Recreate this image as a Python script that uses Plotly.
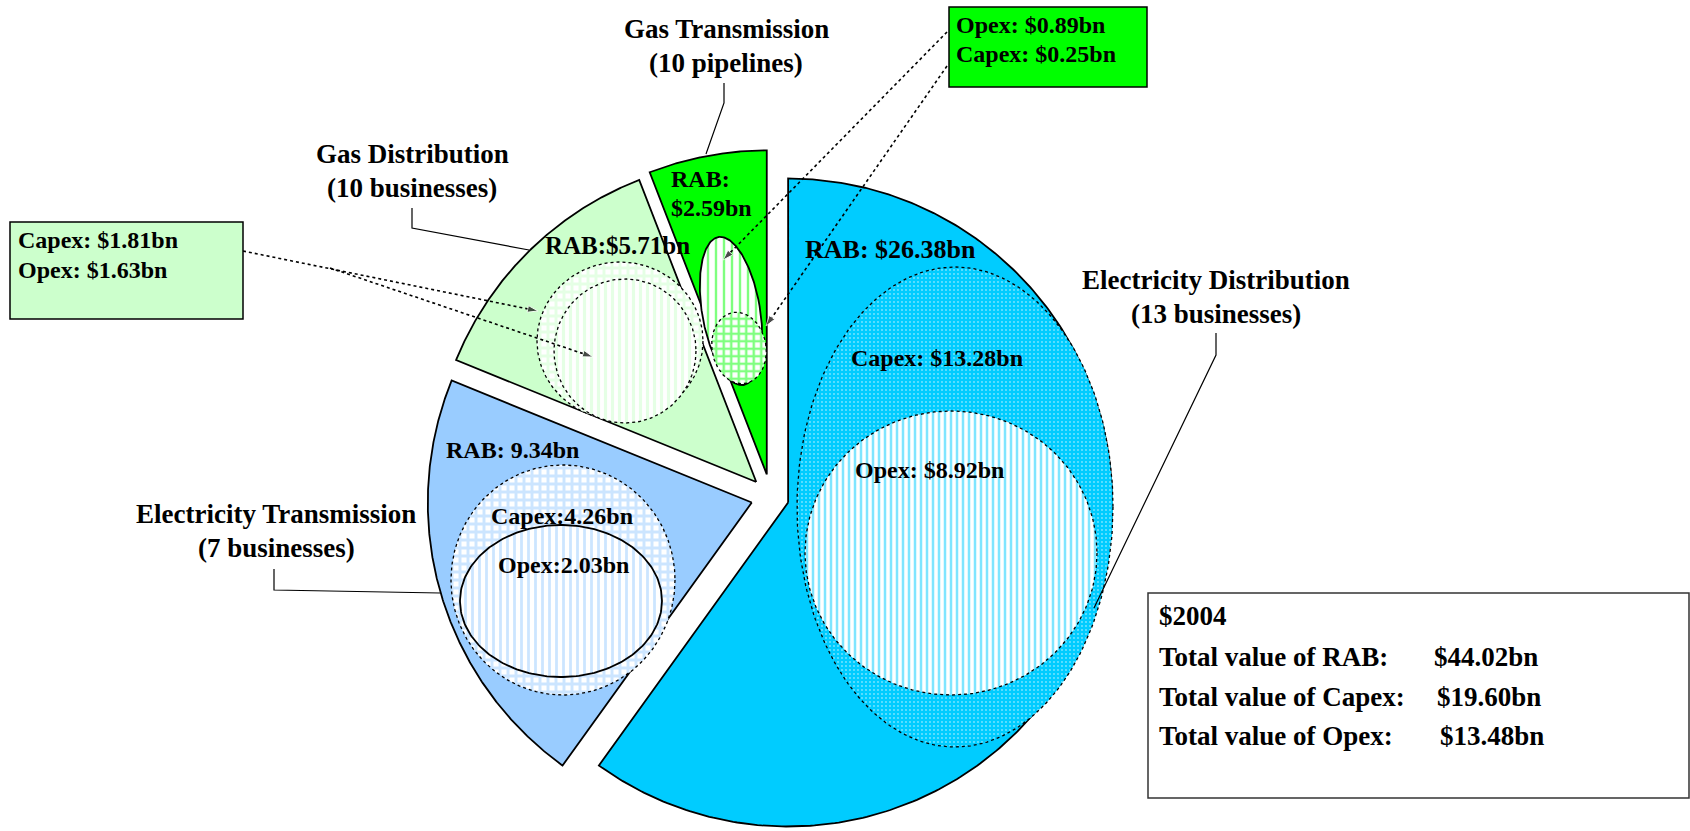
import numpy as np
import plotly.graph_objects as go

# ---------------- data ----------------
segments = ["Electricity Distribution", "Electricity Transmission",
            "Gas Distribution", "Gas Transmission"]
segment_counts = ["(13 businesses)", "(7 businesses)", "(10 businesses)", "(10 pipelines)"]
rab_bn = [26.38, 9.34, 5.71, 2.59]
capex_bn = [13.28, 4.26, 1.81, 0.25]
opex_bn = [8.92, 2.03, 1.63, 0.89]
price_base = "$2004"
total_labels = ["Total value of RAB:", "Total value of Capex:", "Total value of Opex:"]
total_values_bn = [44.02, 19.60, 13.48]

# ---------------- style / layout constants ----------------
W, H = 1690, 831
PIE_CX, PIE_CY, PIE_R = 771, 497, 324
PULL_PX = [18, 20, 21, 23]
SLICE_COLORS = ["#00CCFF", "#99CCFF", "#CCFFCC", "#00FF00"]
FONT = "Liberation Serif, Times New Roman, serif"

RAB_FMT = ["RAB: ${:.2f}bn", "RAB: {:.2f}bn", "RAB:${:.2f}bn", "RAB:|${:.2f}bn"]
CAPEX_FMT = ["Capex: ${:.2f}bn", "Capex:{:.2f}bn", "Capex: ${:.2f}bn", "Capex: ${:.2f}bn"]
OPEX_FMT = ["Opex: ${:.2f}bn", "Opex:{:.2f}bn", "Opex: ${:.2f}bn", "Opex: ${:.2f}bn"]

# title label positions (centre x, y of first line), line gap
TITLE_POS = [(1216, 280), (276, 514), (412, 154), (726, 29)]
TITLE_GAP = 34
# in-slice label positions (left x, y)
RAB_POS = [(803, 249), (444, 450), (543, 245), (669, 179)]
RAB_SIZE = [26, 24, 25, 24]
CAPEX_POS = {0: (849, 358), 1: (489, 516)}
OPEX_POS = {0: (853, 470), 1: (496, 565)}
# call-out boxes for the gas segments: (x0, y0, x1, y1), text x, text ys, order
BOXES = {
    2: dict(rect=(10, 222, 243, 319), tx=16, ty=[240, 270], order=["capex", "opex"]),
    3: dict(rect=(949, 7, 1147, 87), tx=954, ty=[25, 54], order=["opex", "capex"]),
}
# illustrative capex/opex ellipses drawn inside each slice
ELLIPSES = [
    dict(seg=0, kind="capex", cx=955, cy=507, rx=158, ry=240, tilt=0,
         shape=".", fg="white", bg="#00CCFF", size=4, sol=0.16, dash="dot", lw=1.3),
    dict(seg=0, kind="opex", cx=951, cy=553, rx=146, ry=142, tilt=0,
         shape="|", fg="#00CCFF", bg="white", size=6, sol=0.42, dash="dot", lw=1.3),
    dict(seg=1, kind="capex", cx=563, cy=580, rx=112, ry=115, tilt=0,
         shape="+", fg="#99CCFF", bg="white", size=8, sol=0.6, dash="dot", lw=1.3),
    dict(seg=1, kind="opex", cx=561, cy=601, rx=101, ry=76, tilt=0,
         shape="|", fg="#99CCFF", bg="white", size=7, sol=0.4, dash="solid", lw=1.8),
    dict(seg=2, kind="capex", cx=620, cy=341, rx=83, ry=79, tilt=0,
         shape="+", fg="#CCFFCC", bg="white", size=8, sol=0.6, dash="dot", lw=1.3),
    dict(seg=2, kind="opex", cx=625, cy=351, rx=71, ry=72, tilt=0,
         shape="|", fg="#CCFFCC", bg="white", size=7, sol=0.45, dash="dot", lw=1.3),
    dict(seg=3, kind="opex", cx=731, cy=311, rx=29, ry=75, tilt=-9.6,
         shape="|", fg="#00FF00", bg="white", size=8, sol=0.3, dash="solid", lw=1.8),
    dict(seg=3, kind="capex", cx=739, cy=348, rx=27, ry=36, tilt=-10,
         shape="+", fg="#00FF00", bg="white", size=7.5, sol=0.55, dash="dot", lw=1.3),
]
# solid leader lines from the titles to the slices
LEADERS = [
    [(1216, 333), (1216, 355), (1094, 608)],
    [(274, 569), (274, 590), (440, 593)],
    [(412, 208), (412, 228), (529, 250)],
    [(724, 83), (724, 103), (706, 154)],
]
# dotted pointer arrows from call-out boxes to ellipses
POINTERS = [
    [(243, 251), (538, 311)],
    [(330, 268), (593, 357)],
    [(947, 32), (723, 260)],
    [(947, 66), (766, 326)],
]
TOTAL_BOX = (1148, 593, 1689, 798)
TOTAL_TX = 1157
TOTAL_VX = [1432, 1435, 1438]
TOTAL_TY = [616, 657, 697, 736]

fig = go.Figure()

# ---------------- exploded pie slices ----------------
total = sum(rab_bn)
angle0 = 0.0
for i, v in enumerate(rab_bn):
    sweep = 360.0 * v / total
    mid = np.radians(angle0 + sweep / 2)
    apx = PIE_CX + PULL_PX[i] * np.sin(mid)
    apy = PIE_CY - PULL_PX[i] * np.cos(mid)
    th = np.radians(np.linspace(angle0, angle0 + sweep, 300))
    xs = np.concatenate([[apx], apx + PIE_R * np.sin(th), [apx]])
    ys = np.concatenate([[apy], apy - PIE_R * np.cos(th), [apy]])
    fig.add_trace(go.Scatter(x=xs, y=ys, mode="lines", fill="toself",
                             fillcolor=SLICE_COLORS[i],
                             line=dict(color="black", width=1.8),
                             hoverinfo="skip", name=segments[i]))
    angle0 += sweep

# ---------------- capex / opex ellipses ----------------
t = np.linspace(0, 2 * np.pi, 240)
for e in ELLIPSES:
    phi = np.radians(e["tilt"])
    ex = e["cx"] + e["rx"] * np.cos(t) * np.cos(phi) - e["ry"] * np.sin(t) * np.sin(phi)
    ey = e["cy"] + e["rx"] * np.cos(t) * np.sin(phi) + e["ry"] * np.sin(t) * np.cos(phi)
    fig.add_trace(go.Scatter(
        x=ex, y=ey, mode="lines", fill="toself", fillcolor=e["bg"],
        fillpattern=dict(shape=e["shape"], fgcolor=e["fg"], bgcolor=e["bg"],
                         size=e["size"], solidity=e["sol"]),
        line=dict(color="black", width=e["lw"], dash=e["dash"]),
        hoverinfo="skip", name=f"{segments[e['seg']]} {e['kind']}"))

# ---------------- leader lines ----------------
for pts in LEADERS:
    fig.add_trace(go.Scatter(x=[p[0] for p in pts], y=[p[1] for p in pts],
                             mode="lines", line=dict(color="black", width=1.2),
                             hoverinfo="skip"))

# ---------------- dotted pointers with arrowheads ----------------
for pts in POINTERS:
    fig.add_trace(go.Scatter(x=[p[0] for p in pts], y=[p[1] for p in pts],
                             mode="lines+markers",
                             line=dict(color="black", width=1.6, dash="dot"),
                             marker=dict(symbol=["circle", "arrow"], size=[0, 11],
                                         color="black", angleref="previous"),
                             hoverinfo="skip"))

annotations = []


def txt(x, y, s, size, anchor="left"):
    annotations.append(dict(x=x, y=y, xref="x", yref="y", text=f"<b>{s}</b>",
                            showarrow=False, xanchor=anchor, yanchor="middle",
                            font=dict(family=FONT, size=size, color="black")))


# segment titles
for i in range(4):
    x, y = TITLE_POS[i]
    txt(x, y, segments[i], 27, "center")
    txt(x, y + TITLE_GAP, segment_counts[i], 27, "center")

# RAB labels
for i in range(4):
    x, y = RAB_POS[i]
    for k, line in enumerate(RAB_FMT[i].format(rab_bn[i]).split("|")):
        txt(x, y + 29 * k, line, RAB_SIZE[i])

# capex/opex labels inside electricity slices
for i, (x, y) in CAPEX_POS.items():
    txt(x, y, CAPEX_FMT[i].format(capex_bn[i]), 24)
for i, (x, y) in OPEX_POS.items():
    txt(x, y, OPEX_FMT[i].format(opex_bn[i]), 24)

shapes = []
# call-out boxes for gas slices
for i, b in BOXES.items():
    x0, y0, x1, y1 = b["rect"]
    shapes.append(dict(type="rect", xref="x", yref="y", x0=x0, y0=y0, x1=x1, y1=y1,
                       fillcolor=SLICE_COLORS[i], line=dict(color="black", width=1.5)))
    for k, kind in enumerate(b["order"]):
        s = CAPEX_FMT[i].format(capex_bn[i]) if kind == "capex" else OPEX_FMT[i].format(opex_bn[i])
        txt(b["tx"], b["ty"][k], s, 24)

# totals box
x0, y0, x1, y1 = TOTAL_BOX
shapes.append(dict(type="rect", xref="x", yref="y", x0=x0, y0=y0, x1=x1, y1=y1,
                   fillcolor="white", line=dict(color="#333333", width=1.5)))
txt(TOTAL_TX, TOTAL_TY[0], price_base, 27)
for k in range(3):
    txt(TOTAL_TX, TOTAL_TY[k + 1], total_labels[k], 27)
    txt(TOTAL_VX[k], TOTAL_TY[k + 1], f"${total_values_bn[k]:.2f}bn", 27)

fig.update_layout(
    width=W, height=H, margin=dict(l=0, r=0, t=0, b=0),
    paper_bgcolor="white", plot_bgcolor="white", showlegend=False,
    hovermode=False, dragmode=False,
    xaxis=dict(range=[0, W], visible=False, fixedrange=True),
    yaxis=dict(range=[H, 0], visible=False, fixedrange=True),
    annotations=annotations, shapes=shapes,
)

fig.write_html("out.html", config={"displayModeBar": False, "staticPlot": True},
               post_script="document.body.style.margin='0';document.body.style.overflow='hidden';")
